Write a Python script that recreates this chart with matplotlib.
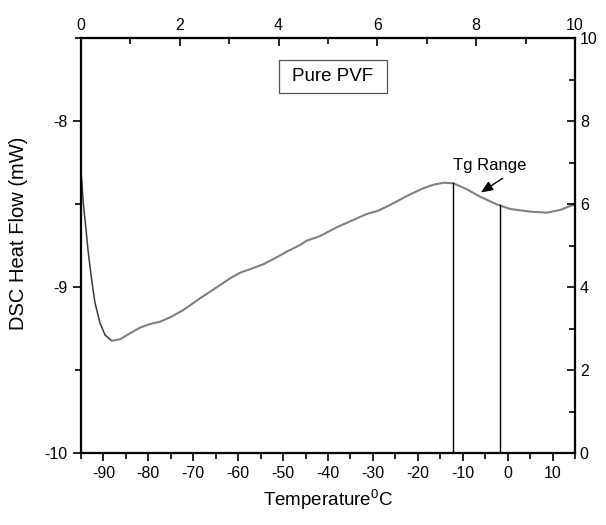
import numpy as np
import matplotlib
matplotlib.use("Agg")
import matplotlib.pyplot as plt
from matplotlib.ticker import MultipleLocator
from matplotlib.patches import Rectangle

plt.rcParams['font.family'] = ['Liberation Sans', 'DejaVu Sans']
plt.rcParams['mathtext.fontset'] = 'custom'
plt.rcParams['mathtext.rm'] = 'Liberation Sans'
plt.rcParams['axes.unicode_minus'] = False

# Data
temperature = [-95.0, -94.84, -94.49, -93.95, -93.37, -92.62, -91.88, -90.77, -89.65, -88.16,
               -86.31, -84.09, -81.86, -79.63, -77.41, -75.18, -72.22, -68.49, -64.78, -61.82,
               -59.60, -57.37, -54.40, -51.41, -49.19, -46.22, -44.73, -41.77, -38.05, -34.35,
               -31.37, -28.79, -26.18, -22.46, -18.76, -16.54, -14.31, -12.08, -9.10, -6.14,
               -2.42, 0.55, 5.00, 8.72, 11.69, 13.92, 15.0]
heat_flow = [-8.313, -8.355, -8.494, -8.637, -8.795, -8.958, -9.096, -9.217, -9.289, -9.324,
             -9.315, -9.279, -9.245, -9.223, -9.209, -9.183, -9.139, -9.068, -9.002, -8.948,
             -8.914, -8.893, -8.863, -8.821, -8.787, -8.747, -8.721, -8.693, -8.640, -8.596,
             -8.560, -8.540, -8.506, -8.452, -8.405, -8.384, -8.372, -8.375, -8.411, -8.456,
             -8.502, -8.530, -8.546, -8.552, -8.536, -8.512, -8.502]
tg_lines = [-12.1, -1.8]
bottom_ticks = [-90, -80, -70, -60, -50, -40, -30, -20, -10, 0, 10]
left_ticks = [-10, -9, -8]
top_ticks = [0, 2, 4, 6, 8, 10]
right_ticks = [0, 2, 4, 6, 8, 10]

fig = plt.figure(figsize=(6.06, 5.25), dpi=100)
ax = fig.add_axes([81/606, 1-453/525, 494/606, 415/525])

t = np.array(temperature)
h = np.array(heat_flow)
imin = int(np.argmin(h))
ax.plot(t[:imin+1], h[:imin+1], color='#3a3a3a', lw=1.1, solid_capstyle='round')
ax.plot(t[imin:], h[imin:], color='#808080', lw=1.5, solid_capstyle='round')

for xv in tg_lines:
    ytop = np.interp(xv, t, h)
    ax.plot([xv, xv], [-10, ytop], color='black', lw=1.0)

ax.annotate('', xy=(-6.5, -8.44), xytext=(-0.6, -8.336),
            arrowprops=dict(arrowstyle='-|>,head_length=0.6,head_width=0.25',
                            color='black', lw=1.0, mutation_scale=12))
ax.text(-3.9, -8.27, 'Tg Range', ha='center', va='center', fontsize=12)

ax.add_patch(Rectangle((0.401, 0.8675), 0.218, 0.0805, transform=ax.transAxes,
                       fc='white', ec='#555555', lw=0.9, zorder=3))
ax.text(0.51, 0.908, 'Pure PVF', transform=ax.transAxes, ha='center', va='center',
        fontsize=13.5, zorder=4)

ax.set_xlim(-95, 15)
ax.set_ylim(-10, -7.5)
ax.set_xticks(bottom_ticks)
ax.xaxis.set_minor_locator(MultipleLocator(5))
ax.set_yticks(left_ticks)
ax.yaxis.set_minor_locator(MultipleLocator(0.5))
ax.tick_params(which='both', direction='out', labelsize=11.5, width=1.2)
ax.tick_params(which='major', length=6)
ax.tick_params(which='minor', length=4)
ax.set_xlabel('Temperature$^{0}$C', fontsize=13.5, labelpad=4)
ax.set_ylabel('DSC Heat Flow (mW)', fontsize=14.5)
ax.yaxis.set_label_coords(-0.107, 0.529)

ax2 = ax.twinx()
ax2.set_ylim(0, 10)
ax2.set_yticks(right_ticks)
ax2.yaxis.set_minor_locator(MultipleLocator(1))
ax2.tick_params(which='both', direction='in', labelsize=11.5, width=1.2)
ax2.tick_params(which='major', length=6)
ax2.tick_params(which='minor', length=4)

ax3 = ax.twiny()
ax3.set_xlim(0, 10)
ax3.set_xticks(top_ticks)
ax3.xaxis.set_minor_locator(MultipleLocator(1))
ax3.tick_params(which='both', direction='in', labelsize=11.5, width=1.2)
ax3.tick_params(which='major', length=6)
ax3.tick_params(which='minor', length=4)

for a in (ax, ax2, ax3):
    for s in a.spines.values():
        s.set_linewidth(1.5)

fig.savefig('out.png', dpi=100)
